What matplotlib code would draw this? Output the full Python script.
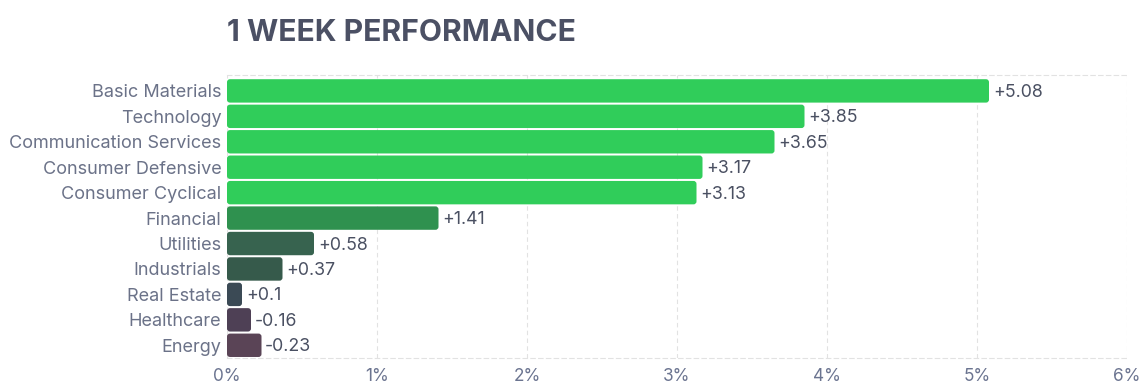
import matplotlib.pyplot as plt
from matplotlib.patches import FancyBboxPatch

plt.rcParams['font.family'] = ['Inter', 'DejaVu Sans']

# datos
sectores = ["Basic Materials", "Technology", "Communication Services",
            "Consumer Defensive", "Consumer Cyclical", "Financial",
            "Utilities", "Industrials", "Real Estate", "Healthcare", "Energy"]
cambios = [5.08, 3.85, 3.65, 3.17, 3.13, 1.41, 0.58, 0.37, 0.1, -0.16, -0.23]
etiquetas = ["+5.08", "+3.85", "+3.65", "+3.17", "+3.13", "+1.41",
             "+0.58", "+0.37", "+0.1", "-0.16", "-0.23"]
colores = ["#30CD5A", "#30CD5A", "#30CD5A", "#30CD5A", "#30CD5A", "#2F914F",
           "#37634F", "#365A4B", "#3B4A55", "#4E4055", "#5A4456"]
ticks_x = [0, 1, 2, 3, 4, 5, 6]

fig = plt.figure(figsize=(11.47, 3.89), dpi=100)
ax = fig.add_axes([227 / 1147, 31 / 389, 900 / 1147, 283 / 389])

y = list(range(len(sectores)))
largos = [abs(v) for v in cambios]
barras = ax.barh(y, largos, height=0.92, color=colores)

ax.set_xlim(0, 6)
ax.set_ylim(10.5, -0.625)

# esquinas redondeadas
for b, c in zip(barras, colores):
    x0, y0 = b.get_x(), b.get_y()
    w, h = b.get_width(), b.get_height()
    b.set_visible(False)
    p = FancyBboxPatch((x0, y0), w, h,
                       boxstyle="round,pad=0,rounding_size=0.02",
                       mutation_aspect=5.9, facecolor=c, edgecolor="none",
                       zorder=3)
    ax.add_patch(p)

# etiquetas de valor
for yi, v, t in zip(y, largos, etiquetas):
    ax.text(v + 0.025, yi + 0.06, t, va="center", ha="left", fontsize=12.8,
            color="#4A5062", zorder=4)

ax.set_yticks(y)
ax.set_yticklabels(sectores, fontsize=13.0, color="#6B7288")
ax.set_xticks(ticks_x)
ax.set_xticklabels([f"{t}%" for t in ticks_x], fontsize=12.4, color="#6B7490")
ax.tick_params(axis="both", length=0)
ax.tick_params(axis="y", pad=4)
ax.tick_params(axis="x", pad=7)

guion = (0, (4, 3))
ax.grid(axis="x", color="#E2E2E2", linestyle=guion, linewidth=0.8, zorder=0)
ax.set_axisbelow(True)
for lado in ["left", "right"]:
    ax.spines[lado].set_visible(False)
for lado in ["top", "bottom"]:
    ax.spines[lado].set_color("#E2E2E2")
    ax.spines[lado].set_linestyle(guion)
    ax.spines[lado].set_linewidth(0.8)

fig.text(227 / 1147, 1 - 33 / 389, "1 WEEK PERFORMANCE", fontsize=21.7,
         fontweight="bold", color="#4B5064", ha="left", va="center")

fig.savefig("out.png", dpi=100, facecolor="white")
